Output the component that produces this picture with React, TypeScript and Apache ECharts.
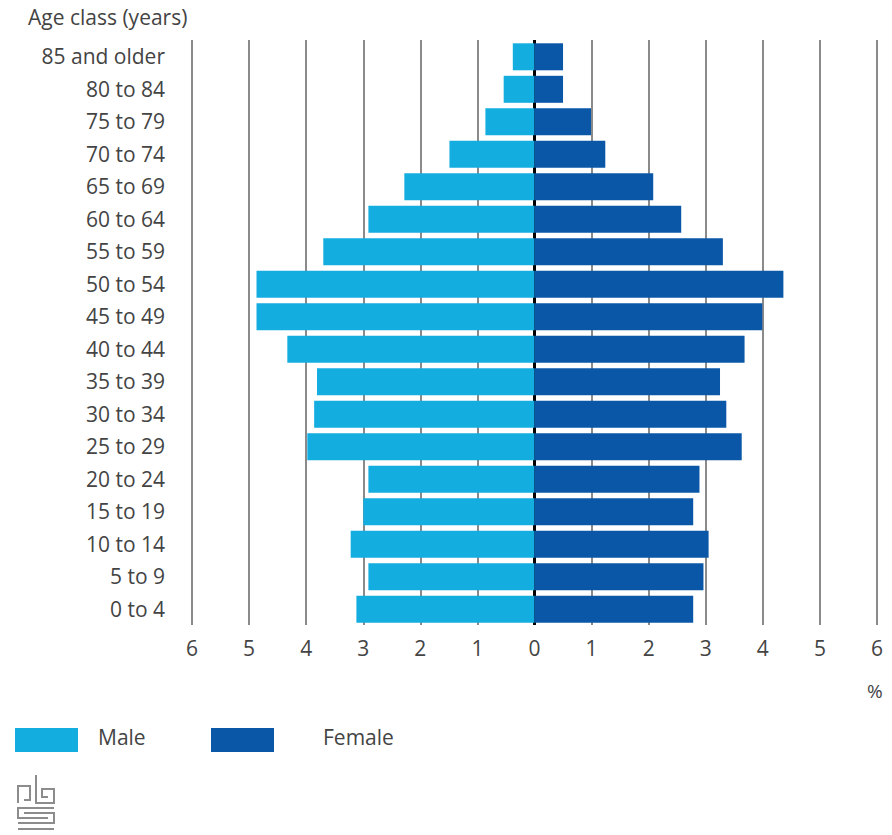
import React, { useEffect, useRef } from "react";
import * as echarts from "echarts";

const categories = [
  "0 to 4", "5 to 9", "10 to 14", "15 to 19", "20 to 24", "25 to 29", "30 to 34",
  "35 to 39", "40 to 44", "45 to 49", "50 to 54", "55 to 59", "60 to 64",
  "65 to 69", "70 to 74", "75 to 79", "80 to 84", "85 and older",
];
const maleValues = [3.12, 2.91, 3.22, 3.0, 2.91, 3.98, 3.86, 3.81, 4.33, 4.87, 4.87, 3.7, 2.91, 2.28, 1.49, 0.86, 0.54, 0.38];
const femaleValues = [2.78, 2.96, 3.05, 2.78, 2.89, 3.63, 3.36, 3.25, 3.68, 3.99, 4.36, 3.3, 2.57, 2.08, 1.24, 0.99, 0.5, 0.5];
const xTicks = [-6, 6, 1];

const MALE = "#14ade0";
const FEMALE = "#0a57a8";
const TXT = "#444444";
const FONT = "'Open Sans', sans-serif";

export default function App() {
  const ref = useRef<HTMLDivElement>(null);
  useEffect(() => {
    document.body.style.margin = "0";
    const chart = echarts.init(ref.current!, null, { renderer: "svg" });
    const logoStroke = { stroke: "#8c8c8c", lineWidth: 2, fill: "none" };
    chart.setOption({
      animation: false,
      backgroundColor: "#ffffff",
      grid: { left: 192, right: 15, top: 40, bottom: 210, containLabel: false },
      xAxis: {
        type: "value",
        min: xTicks[0],
        max: xTicks[1],
        interval: xTicks[2],
        axisLine: { show: false },
        axisTick: { show: false },
        axisLabel: {
          formatter: (v: number) => String(Math.abs(v)),
          color: TXT,
          fontFamily: FONT,
          fontSize: 21,
          margin: 12,
        },
        splitLine: { show: true, lineStyle: { color: "#8a8a8a", width: 2 } },
      },
      yAxis: {
        type: "category",
        data: categories,
        axisLine: { show: false, onZero: false },
        axisTick: { show: false },
        axisLabel: { color: TXT, fontFamily: FONT, fontSize: 21, margin: 27 },
        splitLine: { show: false },
      },
      series: [
        {
          name: "zero",
          type: "bar",
          z: 1,
          data: [],
          markLine: {
            z: 1,
            silent: true,
            symbol: "none",
            label: { show: false },
            lineStyle: { color: "#000000", width: 3, type: "solid" },
            data: [{ xAxis: 0 }],
          },
        },
        {
          name: "Male",
          type: "bar",
          stack: "pop",
          z: 3,
          barWidth: 27,
          itemStyle: { color: MALE },
          data: maleValues.map((v) => -v),
        },
        {
          name: "Female",
          type: "bar",
          stack: "pop",
          z: 3,
          barWidth: 27,
          itemStyle: { color: FEMALE },
          data: femaleValues,
        },
      ],
      graphic: [
        { type: "text", left: 28, top: 6, style: { text: "Age class (years)", fill: TXT, font: `21px ${FONT}` } },
        { type: "text", left: 867, top: 681, style: { text: "%", fill: TXT, font: `19px ${FONT}` } },
        { type: "rect", shape: { x: 15, y: 728, width: 63, height: 24 }, style: { fill: MALE } },
        { type: "text", left: 98, top: 726, style: { text: "Male", fill: TXT, font: `21px ${FONT}` } },
        { type: "rect", shape: { x: 211, y: 728, width: 63, height: 24 }, style: { fill: FEMALE } },
        { type: "text", left: 323, top: 726, style: { text: "Female", fill: TXT, font: `21px ${FONT}` } },
        {
          type: "group",
          children: [
            { type: "polyline", shape: { points: [[18, 803], [18, 786], [30, 786], [30, 800], [24, 800]] }, style: logoStroke },
            { type: "polyline", shape: { points: [[36, 775], [36, 803], [54, 803], [54, 789], [42, 789], [42, 797], [48, 797]] }, style: logoStroke },
            { type: "polyline", shape: { points: [[54, 808], [18, 808], [18, 818], [48, 818]] }, style: logoStroke },
            { type: "polyline", shape: { points: [[18, 823], [54, 823], [54, 813], [24, 813]] }, style: logoStroke },
            { type: "polyline", shape: { points: [[18, 829], [54, 829]] }, style: logoStroke },
          ],
        },
      ],
    });
    return () => chart.dispose();
  }, []);
  return <div ref={ref} style={{ width: 892, height: 835 }} />;
}
